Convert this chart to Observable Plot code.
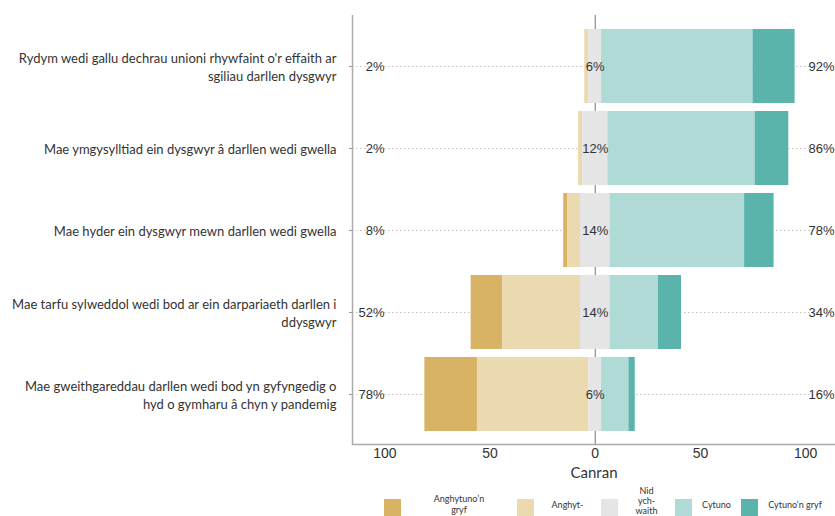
<!DOCTYPE html>
<html>
<head>
<meta charset="utf-8">
<script src="https://cdn.jsdelivr.net/npm/d3@7"></script>
<script src="https://cdn.jsdelivr.net/npm/@observablehq/plot@0.6"></script>
<style>
  html, body { margin: 0; padding: 0; overflow: hidden; background: white; }
  #chart svg { display: block; }
  #legend { position: relative; height: 36px; display: flex; align-items: center; padding-left: 384px; font-family: Lato, "Open Sans", sans-serif; font-size: 9px; color: #333; }
  .sw { width: 17px; height: 17px; flex: none; margin-top: 6px; }
  .lab { text-align: center; line-height: 11px; white-space: pre; flex: none; }
  .lab.tall { align-self: flex-start; line-height: 10px; }
</style>
</head>
<body>
<div id="chart"></div>
<div id="legend"></div>
<script>
const categories = [
  "Rydym wedi gallu dechrau unioni rhywfaint o'r effaith ar\nsgiliau darllen dysgwyr",
  "Mae ymgysylltiad ein dysgwyr â darllen wedi gwella",
  "Mae hyder ein dysgwyr mewn darllen wedi gwella",
  "Mae tarfu sylweddol wedi bod ar ein darpariaeth darllen i\nddysgwyr",
  "Mae gweithgareddau darllen wedi bod yn gyfyngedig o\nhyd o gymharu â chyn y pandemig"
];
const responses = ["Anghytuno’n gryf", "Anghytuno", "Nid ychwaith", "Cytuno", "Cytuno’n gryf"];
const legendLabels = ["Anghytuno’n\ngryf", "Anghyt-", "Nid\nych-\nwaith", "Cytuno", "Cytuno’n gryf"];
const stronglyDisagree = [0, 0, 2, 15, 25];
const disagree = [2, 2, 6, 37, 53];
const neutral = [6, 12, 14, 14, 6];
const agree = [72, 70, 64, 23, 13];
const stronglyAgree = [20, 16, 14, 11, 3];
const colors = ["#d8b365", "#ebd9af", "#e5e5e5", "#b0dad6", "#5ab4ab"];
const xTicks = [-100, -50, 0, 50, 100];
const xDomain = [-115.4, 114.2];

const segments = [];
const rows = [];
categories.forEach((q, i) => {
  const h = neutral[i] / 2;
  const d = disagree[i], sd = stronglyDisagree[i], a = agree[i], sa = stronglyAgree[i];
  segments.push({question: q, response: responses[0], x1: -h - d - sd, x2: -h - d});
  segments.push({question: q, response: responses[1], x1: -h - d, x2: -h});
  segments.push({question: q, response: responses[2], x1: -h, x2: h});
  segments.push({question: q, response: responses[3], x1: h, x2: h + a});
  segments.push({question: q, response: responses[4], x1: h + a, x2: h + a + sa});
  rows.push({question: q, neg: d + sd, neu: neutral[i], pos: a + sa, mid: (-h + h) / 2});
});

const chart = Plot.plot({
  width: 835,
  height: 486,
  marginLeft: 352,
  marginRight: 0,
  marginTop: 15,
  marginBottom: 42,
  style: {fontFamily: "'Liberation Sans', Arial, sans-serif", fontSize: "13px", color: "#333", background: "white"},
  x: {domain: xDomain},
  y: {domain: categories, paddingInner: 0.1, paddingOuter: 0.15},
  color: {domain: responses, range: colors},
  marks: [
    Plot.gridY({stroke: "#bbb", strokeOpacity: 0.9, strokeDasharray: "1.5,2.5"}),
    Plot.ruleX([0], {stroke: "#8a8a8a", strokeWidth: 1.2}),
    Plot.barX(segments, {y: "question", x1: "x1", x2: "x2", fill: "response"}),
    Plot.text(rows, {y: "question", frameAnchor: "left", textAnchor: "end", dx: 32, text: d => d.neg + "%", fill: "#333"}),
    Plot.text(rows, {y: "question", frameAnchor: "right", textAnchor: "start", dx: -27, text: d => d.pos + "%", fill: "#333"}),
    Plot.text(rows, {y: "question", x: "mid", text: d => d.neu + "%", fill: "#333"}),
    Plot.axisX({ticks: xTicks, tickFormat: d => Math.abs(d), tickSize: 0, tickPadding: 4, fontSize: 14, fill: "#333", label: null}),
    Plot.axisY({tickSize: 3, tickPadding: 13, stroke: "#999", fontFamily: "Lato, sans-serif", fontSize: 13, lineHeight: 1.36, fill: "#333", label: null}),
    Plot.ruleX([xDomain[0]], {stroke: "#aaa", strokeWidth: 1.5}),
    Plot.frame({anchor: "bottom", stroke: "#aaa", strokeWidth: 1.5}),
    Plot.text(["Canran"], {frameAnchor: "bottom", dy: 33, text: d => d, fontFamily: "Lato, sans-serif", fontSize: 15, fill: "#333"})
  ]
});
document.getElementById("chart").appendChild(chart);

const labelWidths = [116, 67, 57, 49, 74];
const legend = document.getElementById("legend");
responses.forEach((r, i) => {
  const sw = document.createElement("div");
  sw.className = "sw";
  sw.style.background = colors[i];
  const lab = document.createElement("div");
  lab.className = legendLabels[i].split("\n").length > 2 ? "lab tall" : "lab";
  lab.style.width = labelWidths[i] + "px";
  lab.textContent = legendLabels[i];
  legend.appendChild(sw);
  legend.appendChild(lab);
});
</script>
</body>
</html>
